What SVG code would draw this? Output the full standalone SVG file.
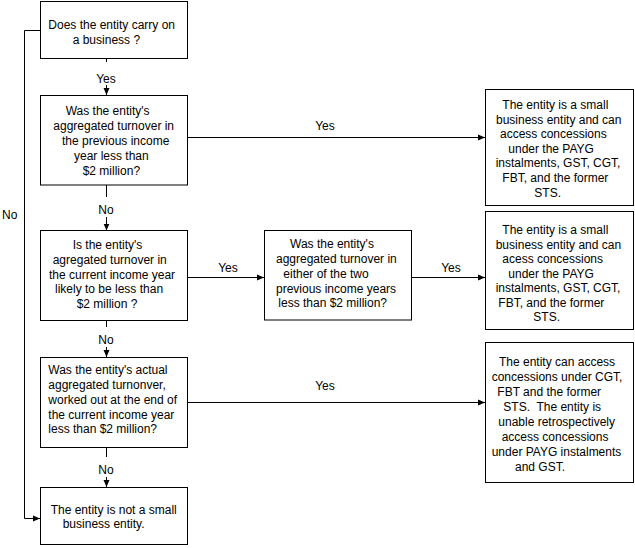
<svg xmlns="http://www.w3.org/2000/svg" width="635" height="548" viewBox="0 0 635 548">
<defs>
<marker id="ah" markerUnits="userSpaceOnUse" markerWidth="8" markerHeight="8" viewBox="0 0 8 8" refX="7" refY="4" orient="auto">
<path d="M0,1 L7,4 L0,7 Z" fill="#000"/>
</marker>
<style>
.box{fill:#fff;stroke:#000;stroke-width:1}
text{font-family:"Liberation Sans",Arial,sans-serif;font-size:12px;fill:#000}
.c{text-anchor:middle}
.ln{fill:none;stroke:#000;stroke-width:1}
.ar{marker-end:url(#ah)}
.bg{fill:#fff}
</style>
</defs>
<rect width="635" height="548" fill="#fff"/>
<g id="connectors">
<path class="ln ar" d="M106.5,58.5 V95"/>
<path class="ln ar" d="M106.5,185 V230.5"/>
<path class="ln ar" d="M106.5,320.5 V357"/>
<path class="ln ar" d="M106.5,447.5 V487"/>
<path class="ln ar" d="M187.5,137.5 H485"/>
<path class="ln ar" d="M187.5,277.5 H264"/>
<path class="ln ar" d="M412,277.5 H485"/>
<path class="ln ar" d="M187.5,402.5 H485"/>
<path class="ln ar" d="M40.5,30.5 H24.5 V518.5 H40"/>
<rect class="bg" x="94" y="62" width="25" height="23"/>
<rect class="bg" x="96" y="197" width="21" height="20"/>
<rect class="bg" x="96" y="327" width="21" height="20"/>
<rect class="bg" x="96" y="457" width="21" height="20"/>
<text class="c" x="106" y="83">Yes</text>
<text class="c" x="106" y="214">No</text>
<text class="c" x="106" y="344">No</text>
<text class="c" x="106" y="474">No</text>
<text x="2" y="219">No</text>
<text class="c" x="325" y="130">Yes</text>
<text class="c" x="228" y="272">Yes</text>
<text class="c" x="451" y="272">Yes</text>
<text class="c" x="325" y="390">Yes</text>
</g>
<g id="q1">
<rect class="box" x="40.5" y="1.5" width="147" height="57"/>
<text x="48.3" y="29">Does the entity carry on</text>
<text x="72.7" y="44.3">a business ?</text>
</g>
<g id="q2">
<rect class="box" x="40.5" y="95.5" width="147" height="89.5"/>
<text x="65.7" y="115">Was the entity's</text>
<text x="53.3" y="130">aggregated turnover in</text>
<text x="62" y="145">the previous income</text>
<text x="74" y="160">year less than</text>
<text x="82.7" y="174.5">$2 million?</text>
</g>
<g id="q3">
<rect class="box" x="40.5" y="230.5" width="147" height="90"/>
<text x="72.7" y="249">Is the entity's</text>
<text x="52.7" y="264">agregated turnover in</text>
<text x="49" y="278.5">the current income year</text>
<text x="55" y="293">likely to be less than</text>
<text x="76.7" y="308">$2 million ?</text>
</g>
<g id="q4">
<rect class="box" x="40.5" y="357.5" width="147" height="90"/>
<text x="48.3" y="374">Was the entity's actual</text>
<text x="48.3" y="389">aggregated turnonver,</text>
<text x="48.3" y="404">worked out at the end of</text>
<text x="48.3" y="418.5">the current income year</text>
<text x="48.3" y="433">less than $2 million?</text>
</g>
<g id="notsbe">
<rect class="box" x="40.5" y="487.5" width="147" height="57"/>
<text x="50.7" y="514">The entity is not a small</text>
<text x="62.7" y="528">business entity.</text>
</g>
<g id="q5">
<rect class="box" x="264.5" y="230.5" width="147" height="89.5"/>
<text x="290" y="248">Was the entity's</text>
<text x="276" y="263">aggregated turnover in</text>
<text x="283.3" y="278">either of the two</text>
<text x="276" y="292.5">previous income years</text>
<text x="278.3" y="307">less than $2 million?</text>
</g>
<g id="r1">
<rect class="box" x="485.5" y="89.5" width="148" height="116"/>
<text x="502.3" y="109">The entity is a small</text>
<text x="496" y="123.6">business entity and can</text>
<text x="500" y="138.2">access concessions</text>
<text x="508.3" y="152.8">under the PAYG</text>
<text x="495.7" y="167.4">instalments, GST, CGT,</text>
<text x="502.3" y="182">FBT, and the former</text>
<text x="534.3" y="196.6">STS.</text>
</g>
<g id="r2">
<rect class="box" x="485.5" y="211.5" width="148" height="118"/>
<text x="502.3" y="234">The entity is a small</text>
<text x="495.7" y="248.5">business entity and can</text>
<text x="502.3" y="263">acess concessions</text>
<text x="508.3" y="277.5">under the PAYG</text>
<text x="495.7" y="292">instalments, GST, CGT,</text>
<text x="498.3" y="306.5">FBT, and the former</text>
<text x="533.3" y="321">STS.</text>
</g>
<g id="r3">
<rect class="box" x="485.5" y="342.5" width="148" height="140"/>
<text x="499" y="365.7">The entity can access</text>
<text x="491.7" y="380.8">concessions under CGT,</text>
<text x="497.3" y="395.9">FBT and the former</text>
<text x="503.3" y="411" xml:space="preserve">STS.  The entity is</text>
<text x="498.3" y="426.1">unable retrospectively</text>
<text x="501.7" y="441.2">access concessions</text>
<text x="491.7" y="456.3">under PAYG instalments</text>
<text x="515" y="471.4">and GST.</text>
</g>
</svg>
